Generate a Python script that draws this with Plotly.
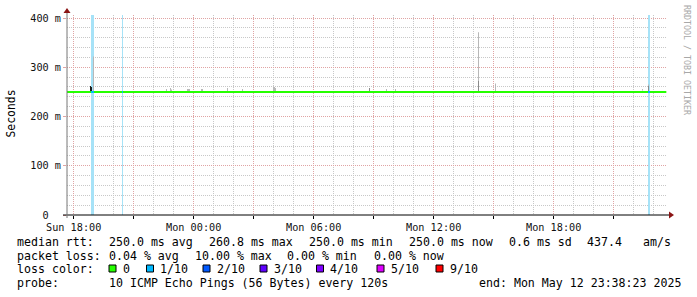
import plotly.graph_objects as go
import pandas as pd

# ---------------- data ----------------
view_start = "2025-05-11 17:40:00"
view_end = "2025-05-12 23:40:00"

median_times = ["2025-05-11 17:40:00", "2025-05-12 23:38:00"]
median_rtt = [0.250, 0.250]

loss_times = ["2025-05-11 18:53:30", "2025-05-11 18:56:30", "2025-05-11 18:59:30",
              "2025-05-11 20:26:30", "2025-05-12 22:44:30", "2025-05-12 22:47:30"]
loss_frac = [0.1, 0.1, 0.1, 0.1, 0.1, 0.1]

smoke_light_times = ["2025-05-11 18:59:30", "2025-05-11 22:38:30", "2025-05-11 22:50:30",
                     "2025-05-11 22:53:30", "2025-05-11 23:41:30", "2025-05-11 23:44:30",
                     "2025-05-11 23:47:30", "2025-05-12 00:23:30", "2025-05-12 00:26:30",
                     "2025-05-12 01:41:30", "2025-05-12 02:26:30", "2025-05-12 03:59:30",
                     "2025-05-12 04:02:30", "2025-05-12 04:05:30", "2025-05-12 09:38:30",
                     "2025-05-12 10:05:30", "2025-05-12 14:14:30", "2025-05-12 15:05:30",
                     "2025-05-12 22:26:30", "2025-05-12 22:44:30"]
smoke_light_lo = [0.251, 0.251, 0.251, 0.251, 0.251, 0.251, 0.251, 0.251, 0.251, 0.251,
                  0.251, 0.251, 0.251, 0.251, 0.251, 0.251, 0.252, 0.251, 0.253, 0.251]
smoke_light_hi = [0.322, 0.256, 0.258, 0.255, 0.256, 0.256, 0.256, 0.256, 0.256, 0.258,
                  0.256, 0.260, 0.260, 0.258, 0.256, 0.256, 0.371, 0.267, 0.256, 0.265]

smoke_mid_times = ["2025-05-12 08:47:30", "2025-05-12 14:14:30", "2025-05-12 22:44:30"]
smoke_mid_lo = [0.251, 0.251, 0.251]
smoke_mid_hi = [0.258, 0.272, 0.262]

smoke_dark_times = ["2025-05-11 18:50:30", "2025-05-11 18:53:30"]
smoke_dark_lo = [0.251, 0.251]
smoke_dark_hi = [0.262, 0.260]

y_tick_vals = [0.0, 0.1, 0.2, 0.3, 0.4]
y_tick_text = ["0\u00a0\u00a0", "100 m", "200 m", "300 m", "400 m"]

x_tick_vals = ["2025-05-11 18:00", "2025-05-11 21:00", "2025-05-12 00:00", "2025-05-12 03:00",
               "2025-05-12 06:00", "2025-05-12 09:00", "2025-05-12 12:00", "2025-05-12 15:00",
               "2025-05-12 18:00", "2025-05-12 21:00"]
x_tick_text = ["Sun 18:00", "", "Mon 00:00", "", "Mon 06:00", "", "Mon 12:00", "",
               "Mon 18:00", ""]

rtt_label = "median rtt:"
rtt_stats = ["250.0 ms avg", "260.8 ms max", "250.0 ms min", "250.0 ms now", "0.6 ms sd",
             "437.4", "am/s"]
loss_label = "packet loss:"
loss_stats = ["0.04 % avg", "10.00 % max", "0.00 % min", "0.00 % now"]
color_label = "loss color:"
loss_color_names = ["0", "1/10", "2/10", "3/10", "4/10", "5/10", "9/10"]
probe_label = "probe:"
probe_text = "10 ICMP Echo Pings (56 Bytes) every 120s"
end_text = "end: Mon May 12 23:38:23 2025"

# ---------------- layout helpers ----------------
W, H = 697, 297
L, R, T, B = 67, 30, 15, 82
PW, PH = W - L - R, H - T - B
BASE = H - B


def px(x):
    return (x - L) / PW


def py(y):
    return (BASE - y) / PH


y_max = 0.4061
step = pd.Timedelta(seconds=180)
loss_palette = ["#26ff00", "#00b8ff", "#0059ff", "#5e00ff", "#7e00ff", "#dd00ff", "#ff0000"]
MONO = "DejaVu Sans Mono"

fig = go.Figure()


def columns(times, lo, hi, color):
    xs, ys = [], []
    for t, a, b in zip(pd.to_datetime(times), lo, hi):
        t0, t1 = t - step / 2, t + step / 2
        xs += [t0, t0, t1, t1, t0, None]
        ys += [a, b, b, a, a, None]
    fig.add_trace(go.Scatter(x=xs, y=ys, mode="lines", fill="toself", fillcolor=color,
                             line=dict(width=0, color=color), hoverinfo="skip"))


# loss background columns (full height)
columns(loss_times, [0] * len(loss_times), [y_max] * len(loss_times), "#a6e2f7")
# smoke
columns(smoke_light_times, smoke_light_lo, smoke_light_hi, "#b8b8b8")
columns(smoke_mid_times, smoke_mid_lo, smoke_mid_hi, "#8a8a8a")
columns(smoke_dark_times, smoke_dark_lo, smoke_dark_hi, "#1e1e1e")

# median line
fig.add_trace(go.Scatter(x=pd.to_datetime(median_times), y=median_rtt, mode="lines",
                         line=dict(color=loss_palette[0], width=2), hoverinfo="skip"))

# loss-coloured median segments
seg_x, seg_y = [], []
for t, f in zip(pd.to_datetime(loss_times), loss_frac):
    seg_x += [t - step / 2, t + step / 2, None]
    seg_y += [median_rtt[0], median_rtt[0], None]
fig.add_trace(go.Scatter(x=seg_x, y=seg_y, mode="lines",
                         line=dict(color=loss_palette[1], width=2), hoverinfo="skip"))

major_x = pd.to_datetime(x_tick_vals)
minor_x = [t for t in pd.date_range("2025-05-11 18:00", "2025-05-12 23:00", freq="1h")
           if t not in set(major_x)]
minor_y = [round(i * 0.02, 2) for i in range(21) if i % 5 != 0]

fig.update_layout(
    width=W, height=H, margin=dict(l=L, r=R, t=T, b=B, pad=0),
    paper_bgcolor="white", plot_bgcolor="white", showlegend=False,
    xaxis=dict(type="date", range=[view_start, view_end], tickmode="array",
               tickvals=major_x, ticktext=x_tick_text,
               showgrid=True, gridcolor="#e0a4a4", griddash="1px,1px", gridwidth=1,
               ticks="outside", ticklen=3, tickcolor="#000", showline=False, zeroline=False,
               tickfont=dict(family=MONO, size=10.2, color="#111"),
               minor=dict(tickmode="array", tickvals=minor_x, showgrid=True,
                          gridcolor="#c8c8c8", griddash="1px,1px", gridwidth=1, ticks=""),
               fixedrange=True),
    yaxis=dict(range=[0, y_max], tickmode="array", tickvals=y_tick_vals, ticktext=y_tick_text,
               showgrid=True, gridcolor="#e0a4a4", griddash="1px,1px", gridwidth=1,
               ticks="outside", ticklen=3, tickcolor="#e0a4a4", showline=False, zeroline=False,
               tickfont=dict(family=MONO, size=10.2, color="#111"),
               minor=dict(tickmode="array", tickvals=minor_y, showgrid=True,
                          gridcolor="#c8c8c8", griddash="1px,1px", gridwidth=1, ticks=""),
               fixedrange=True),
)

shapes = [
    dict(type="line", xref="paper", yref="paper", x0=px(63), x1=px(669), y0=py(215), y1=py(215),
         line=dict(color="#000", width=1)),
    dict(type="line", xref="paper", yref="paper", x0=px(67), x1=px(67), y0=py(218), y1=py(12),
         line=dict(color="#777", width=1)),
    dict(type="path", xref="paper", yref="paper",
         path=f"M {px(669)},{py(211.5)} L {px(674)},{py(215)} L {px(669)},{py(218.5)} Z",
         fillcolor="#8b1414", line=dict(width=0)),
    dict(type="path", xref="paper", yref="paper",
         path=f"M {px(63.5)},{py(13)} L {px(67)},{py(8)} L {px(70.5)},{py(13)} Z",
         fillcolor="#8b1414", line=dict(width=0)),
]

square_left = [109, 146.5, 203, 260, 316.5, 377, 436]
for xl, c in zip(square_left, loss_palette):
    shapes.append(dict(type="rect", xref="paper", yref="paper", x0=px(xl), x1=px(xl + 7),
                       y0=py(265), y1=py(272), fillcolor=c, line=dict(color="#000", width=1)))
fig.update_layout(shapes=shapes)

ann = []


def text(x, y, s, size=11.6, color="#000", angle=0, xanchor="left", family=MONO):
    ann.append(dict(x=px(x), y=py(y), xref="paper", yref="paper", text=s, showarrow=False,
                    xanchor=xanchor, yanchor="middle", textangle=angle, borderpad=0,
                    font=dict(family=family, size=size, color=color)))


y1, y2, y3, y4 = 241.5, 255.5, 268.5, 283
text(16, y1, rtt_label)
for x, s in zip([107.7, 207.7, 307.7, 407.7, 507.7, 586, 641.7], rtt_stats):
    text(x, y1, s)
text(16, y2, loss_label)
for x, s in zip([107.7, 194.3, 286, 372.7], loss_stats):
    text(x, y2, s)
text(16, y3, color_label)
for xl, s in zip(square_left, loss_color_names):
    text(xl + 12.6, y3, s)
text(16, y4, probe_label)
text(107.7, y4, probe_text)
text(478.3, y4, end_text)

text(10.5, 114, "Seconds", size=11.4, angle=-90, xanchor="center")
text(687, 60, "RRDTOOL / TOBI OETIKER", size=8.3, color="#a8a8a8", angle=90, xanchor="center")

fig.update_layout(annotations=ann)
fig.write_html("out.html")
